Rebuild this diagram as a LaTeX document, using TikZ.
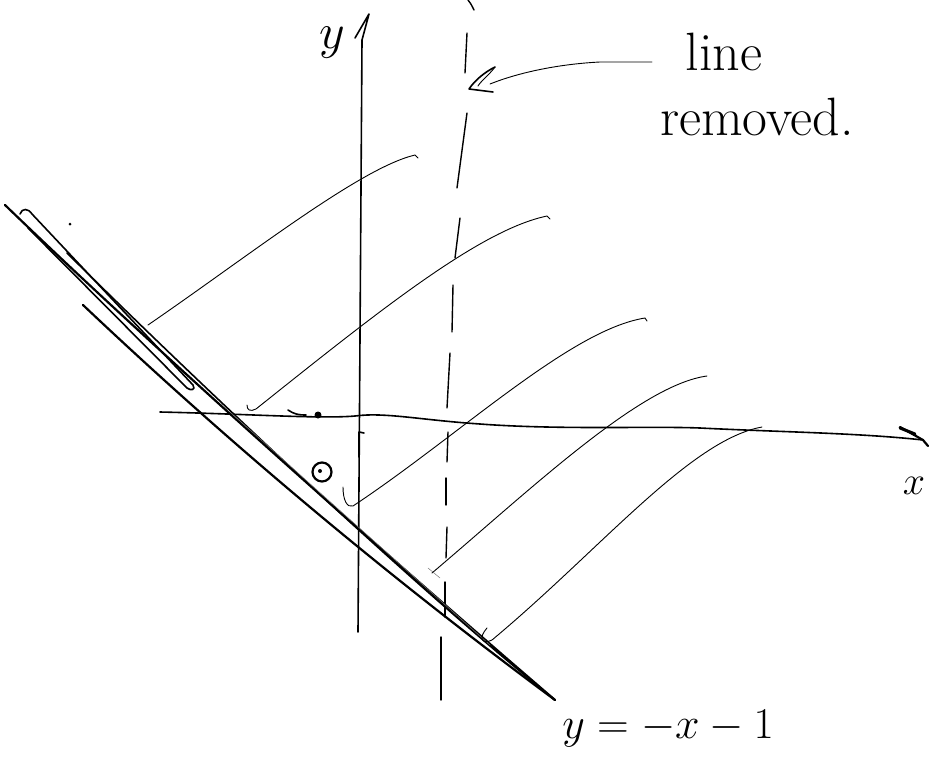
\RequirePackage{fix-cm}
\documentclass[tikz,border=0pt]{standalone}
\usepackage{fontspec}
\begin{document}
\begin{tikzpicture}[x=1pt,y=-1pt,line cap=round,line join=round,
  heavy/.style={line width=2.2pt},
  medium/.style={line width=1.6pt},
  thin/.style={line width=0.9pt},
  hair/.style={line width=0.5pt,black!55},
  dashseg/.style={line width=1.4pt},
  bigtext/.style={font=\fontsize{54}{60}\selectfont,inner sep=0pt},
  eqtext/.style={font=\fontsize{44}{50}\selectfont,inner sep=0pt}]
\useasboundingbox (0,0) rectangle (930,772);

% ---- y axis
\coordinate (yb) at (358,632);
\coordinate (yt) at (362,40);
\coordinate (ytip) at (369,14);
\coordinate (ybarb) at (355,38);
\draw[medium] (yb) -- (yt) -- (ytip) -- (ybarb);
\node[font=\fontsize{50}{55}\selectfont,inner sep=0pt,anchor=base] (ylab) at (332,48) {$y$};

% ---- x axis
\coordinate (xs) at (160,412);
\coordinate (xtip) at (923,440);
\draw[medium] (xs) .. controls (250,414) and (320,419) .. (355,416)
  .. controls (385,412) and (420,420) .. (480,424)
  .. controls (560,430) and (650,426) .. (700,428)
  .. controls (780,432) and (860,433) .. (xtip);
\draw[heavy] (900,427) -- (xtip) -- (928,446);
\draw[line width=3pt] (900,428) -- (915,434);
\node[font=\fontsize{40}{46}\selectfont,inner sep=0pt,anchor=base] (xlab) at (914,494) {$x$};

% ---- dashed line (line removed)
\draw[dashseg] (468,0) .. controls (471,4) .. (474,10);
\draw[dashseg] (467,33) -- (465,73);
\draw[dashseg] (467,113) -- (457,188);
\draw[dashseg] (460,218) -- (455,258);
\draw[dashseg] (453,285) -- (452,332);
\draw[dashseg] (450,353) -- (447,408);
\draw[dashseg] (448,432) -- (447,462);
\draw[dashseg] (446,478) -- (446,505);
\draw[dashseg] (447,527) -- (446,558);
\draw[dashseg] (445,582) -- (445,617);
\draw[dashseg] (441,637) -- (441,700);

% ---- label and pointer
\node[bigtext,anchor=base] (lbl1) at (724,70) {line};
\node[bigtext,anchor=base] (lbl2) at (757,135) {removed.};
\coordinate (pstart) at (652,62);
\coordinate (ptip) at (469,89);
\draw[thin] (pstart) -- (600,62) .. controls (560,64) and (520,72) .. (490,84);
\draw[medium] (495,67) .. controls (485,72) and (475,80) .. (ptip) -- (493,92);
\draw[thin] (495,67) .. controls (490,74) and (480,82) .. (478,86);

% ---- heavy cluster: y = -x - 1
\coordinate (tipd) at (555,700);
\draw[heavy] (5,205) .. controls (150,345) and (380,550) .. (tipd);
\draw[medium] (20,214) .. controls (22,208) and (28,208) .. (32,214)
  -- (193,385) .. controls (196,390) and (191,391) .. (187,388) -- (28,228);
\draw[medium] (67,253) .. controls (180,365) and (400,575) .. (tipd);
\draw[heavy] (83,305) .. controls (232,446) and (390,578) .. (tipd);
\draw[hair] (230,412) -- (490,645);

% ---- characteristic curves
\draw[thin] (148,325) .. controls (250,255) and (360,168) .. (415,155) -- (418,158);
\draw[thin] (247,405) .. controls (247,410) and (250,412) .. (256,409)
  .. controls (380,310) and (480,230) .. (547,216) -- (550,219);
\draw[thin] (343,487) .. controls (343,500) and (347,508) .. (353,506)
  .. controls (460,435) and (570,330) .. (645,318) -- (647,321);
\draw[thin] (432,573) .. controls (530,490) and (640,385) .. (707,376);
\draw[hair] (428,568) -- (440,578);
\draw[thin] (487,628) .. controls (478,638) and (482,645) .. (492,640)
  .. controls (600,550) and (690,440) .. (762,427);

% ---- small marks
\draw[medium] (288,410) .. controls (294,414) and (298,415) .. (306,415);
\fill (318,415) circle (3.5pt);
\draw[medium] (364,433) -- (359,432) -- (359,457);
\draw[heavy] (322,472) circle (9.5pt);
\fill (320,471) circle (2pt);
\fill (70,224) circle (1.5pt);

% ---- equation
\node[eqtext,anchor=base] (eq) at (668,738) {$y=-x-1$};
\end{tikzpicture}
\end{document}
